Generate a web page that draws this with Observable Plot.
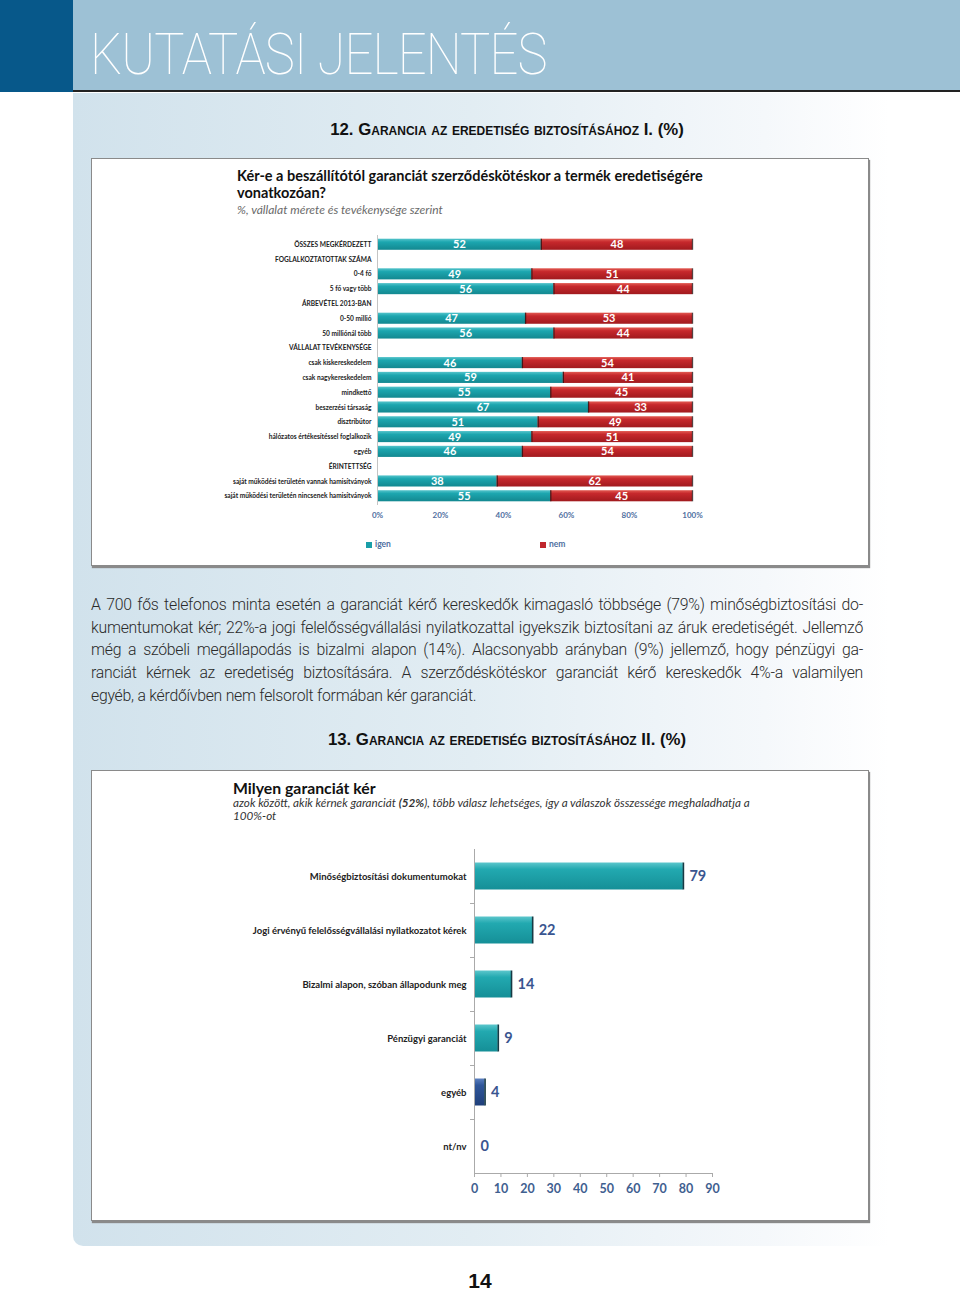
<!DOCTYPE html>
<html><head><meta charset="utf-8">
<script src="https://cdn.jsdelivr.net/npm/d3@7"></script>
<script src="https://cdn.jsdelivr.net/npm/@observablehq/plot@0.6"></script>
<style>
body{margin:0;background:#fff;}
#page{position:relative;width:960px;height:1291px;overflow:hidden;background:#fff;font-family:"Liberation Sans",Arial,sans-serif;}
.abs{position:absolute;}
.frame{position:absolute;background:#fff;border:1px solid #8a8a8a;box-shadow:1px 2px 1px #8a8a8a;}
.head{position:absolute;left:91px;width:832px;text-align:center;font-weight:bold;font-size:16.8px;color:#111;font-variant:small-caps;}
.pl{position:absolute;left:91px;width:772px;font-size:15.8px;letter-spacing:-0.25px;color:#2a2a2a;white-space:nowrap;font-family:Roboto,"Liberation Sans",sans-serif;font-weight:300;}
.ctitle{position:absolute;font-family:Lato,"Open Sans",sans-serif;font-weight:bold;color:#111;}
.csub{position:absolute;font-family:Lato,"Open Sans",sans-serif;font-style:italic;}
.leg{position:absolute;font-family:Lato,sans-serif;font-weight:bold;font-size:8.5px;color:#4f6f9f;}
.sw{display:inline-block;width:6px;height:6px;margin-right:3px;vertical-align:-0.5px;}
</style></head><body><div id="page">
<div class="abs" style="left:73px;top:93px;width:887px;height:1153px;border-bottom-left-radius:10px;background:linear-gradient(to right,#d1e2ec 0%,#e2edf3 45%,#f5f8fb 78%,#ffffff 92%);"></div>
<div class="abs" style="left:0;top:0;width:73px;height:92px;background:#07588a;"></div>
<div class="abs" style="left:73px;top:0;width:887px;height:91px;background:#9dc1d5;"></div>
<div class="abs" style="left:73px;top:90px;width:887px;height:2px;background:#222;"></div>
<div class="abs" id="maintitle" style="left:90px;top:21px;font-family:Roboto,sans-serif;font-weight:100;font-size:57px;color:#fff;letter-spacing:-1px;transform:scaleX(0.89);transform-origin:left top;white-space:nowrap;">KUTATÁSI JELENTÉS</div>

<div class="head" style="top:120px;">12. Garancia az eredetiség biztosításához I. (%)</div>

<div class="frame" style="left:91px;top:158px;width:776px;height:406px;"></div>
<div class="ctitle" style="left:237px;top:168px;font-size:14.5px;line-height:16.5px;">Kér-e a beszállítótól garanciát szerződéskötéskor a termék eredetiségére<br>vonatkozóan?</div>
<div class="csub" style="left:237px;top:202px;font-size:12px;color:#6a6a6a;">%, vállalat mérete és tevékenysége szerint</div>
<div id="c1" class="abs" style="left:92px;top:220px;"></div>
<div class="leg" style="left:366px;top:539px;"><span class="sw" style="background:#1a9ea8"></span>igen</div>
<div class="leg" style="left:540px;top:539px;"><span class="sw" style="background:#c0272d"></span>nem</div>

<div class="pl" style="top:595px;">A 700 fős telefonos minta esetén a garanciát kérő kereskedők kimagasló többsége (79%) minőségbiztosítási do-</div>
<div class="pl" style="top:618px;">kumentumokat kér; 22%-a jogi felelősségvállalási nyilatkozattal igyekszik biztosítani az áruk eredetiségét. Jellemző</div>
<div class="pl" style="top:640px;">még a szóbeli megállapodás is bizalmi alapon (14%). Alacsonyabb arányban (9%) jellemző, hogy pénzügyi ga-</div>
<div class="pl" style="top:663px;">ranciát kérnek az eredetiség biztosítására. A szerződéskötéskor garanciát kérő kereskedők 4%-a valamilyen</div>
<div class="pl last" style="top:686px;">egyéb, a kérdőívben nem felsorolt formában kér garanciát.</div>

<div class="head" style="top:730px;">13. Garancia az eredetiség biztosításához II. (%)</div>

<div class="frame" style="left:91px;top:770px;width:776px;height:449px;"></div>
<div class="ctitle" style="left:233px;top:778px;font-size:15.8px;">Milyen garanciát kér</div>
<div class="csub" style="left:233px;top:796px;font-size:11.7px;line-height:13px;color:#333;">azok között, akik kérnek garanciát <b style="font-style:italic">(52%</b>), több válasz lehetséges, így a válaszok összessége meghaladhatja a<br>100%-ot</div>
<div id="c2" class="abs" style="left:92px;top:840px;"></div>

<div class="abs" style="left:440px;top:1269px;width:80px;text-align:center;font-family:'Liberation Sans Narrow',sans-serif;font-weight:bold;font-size:21px;color:#111;">14</div>
</div>
<script>
const cats1 = ["ÖSSZES MEGKÉRDEZETT","FOGLALKOZTATOTTAK SZÁMA","0-4 fő","5 fő vagy több","ÁRBEVÉTEL 2013-BAN","0-50 millió","50 milliónál több","VÁLLALAT TEVÉKENYSÉGE","csak kiskereskedelem","csak nagykereskedelem","mindkettő","beszerzési társaság","disztribútor","hálózatos értékesítéssel foglalkozik","egyéb","ÉRINTETTSÉG","saját működési területén vannak hamisítványok","saját működési területén nincsenek hamisítványok"];
const igen1 = [52,null,49,56,null,47,56,null,46,59,55,67,51,49,46,null,38,55];
const nem1  = [48,null,51,44,null,53,44,null,54,41,45,33,49,51,54,null,62,45];
const series1 = ["igen","nem"];
const ticks1 = [0,20,40,60,80,100];

const cats2 = ["Minőségbiztosítási dokumentumokat","Jogi érvényű felelősségvállalási nyilatkozatot kérek","Bizalmi alapon, szóban állapodunk meg","Pénzügyi garanciát","egyéb","nt/nv"];
const vals2 = [79,22,14,9,4,0];
const ticks2 = [0,10,20,30,40,50,60,70,80,90];

const rows1 = [];
cats1.forEach((c,i)=>{
  if (igen1[i] != null) {
    rows1.push({cat:c, resp:"igen", value:igen1[i]});
    rows1.push({cat:c, resp:"nem", value:nem1[i]});
  }
});
const rows2 = cats2.map((c,i)=>({cat:c, value:vals2[i]}));

function addDefs(svg, html){
  const ns = "http://www.w3.org/2000/svg";
  const d = document.createElementNS(ns, "defs");
  d.innerHTML = html;
  svg.insertBefore(d, svg.firstChild);
}

const chart1 = Plot.plot({
  width:776, height:305, marginLeft:285, marginRight:176, marginTop:15, marginBottom:20,
  style:{fontFamily:"Lato, 'Open Sans', sans-serif", background:"transparent", overflow:"visible"},
  x:{domain:[0,100]},
  y:{domain:cats1, paddingInner:0.25, paddingOuter:0.25, round:false},
  color:{domain:series1, range:["url(#gTeal1)","url(#gRed1)"]},
  marks:[
    Plot.barX(rows1, Plot.stackX({x:"value", y:"cat", fill:"resp", order:series1})),
    Plot.tickX(rows1, Plot.stackX2({x:"value", y:"cat", z:"resp", order:series1, stroke:"#2a1212", strokeWidth:1.3, strokeOpacity:0.8})),
    Plot.text(rows1, Plot.stackX({x:"value", y:"cat", z:"resp", order:series1, text:"value", fill:"white", fontWeight:"bold", fontSize:11})),
    Plot.ruleX([0], {stroke:"#c4c4c4"}),
    Plot.axisY({tickSize:0, tickPadding:6, fontSize:6.6, fontWeight:"bold", color:"#222", label:null}),
    Plot.axisX({ticks:ticks1, tickFormat:d=>d+"%", tickSize:0, tickPadding:7, fontSize:8, fontWeight:"bold", color:"#4f6f9f", label:null})
  ]
});
addDefs(chart1, `
<linearGradient id="gTeal1" x1="0" y1="0" x2="0" y2="1"><stop offset="0" stop-color="#55c4cb"/><stop offset="0.3" stop-color="#1ca6af"/><stop offset="1" stop-color="#138890"/></linearGradient>
<linearGradient id="gRed1" x1="0" y1="0" x2="0" y2="1"><stop offset="0" stop-color="#e25a52"/><stop offset="0.3" stop-color="#c6282c"/><stop offset="1" stop-color="#a11a1e"/></linearGradient>`);
document.getElementById("c1").appendChild(chart1);

const chart2 = Plot.plot({
  width:776, height:365, marginLeft:382, marginRight:156, marginTop:9, marginBottom:32,
  style:{fontFamily:"Lato, 'Open Sans', sans-serif", background:"transparent", overflow:"visible"},
  x:{domain:[0,90]},
  y:{domain:cats2, paddingInner:0.5, paddingOuter:0.25, round:false},
  marks:[
    Plot.barX(rows2, {x:"value", y:"cat", fill:"url(#gTeal2)", filter:d=>d.cat!=="egyéb"}),
    Plot.barX(rows2, {x:"value", y:"cat", fill:"url(#gBlue2)", filter:d=>d.cat==="egyéb"}),
    Plot.tickX(rows2, {x:"value", y:"cat", stroke:"#173a44", strokeWidth:1.6, filter:d=>d.value>0}),
    Plot.text(rows2, {x:"value", y:"cat", text:"value", dx:6, textAnchor:"start", fill:"#3a5590", fontSize:14.5, fontWeight:"bold"}),
    Plot.ruleY(cats2.slice(1), {y:d=>d, x1:-1.5, x2:0, dy:-27, stroke:"#aaa"}),
    Plot.frame({anchor:"left", stroke:"#aaa"}),
    Plot.frame({anchor:"bottom", stroke:"#aaa"}),
    Plot.axisY({tickSize:0, tickPadding:8, fontSize:9.5, fontWeight:"bold", color:"#222", label:null}),
    Plot.axisX({ticks:ticks2, tickSize:4, tickPadding:7, fontSize:12.5, fontWeight:"bold", stroke:"#aaa", fill:"#3f6090", label:null})
  ]
});
addDefs(chart2, `
<linearGradient id="gTeal2" x1="0" y1="0" x2="0" y2="1"><stop offset="0" stop-color="#5cc6cc"/><stop offset="0.25" stop-color="#22a9b0"/><stop offset="1" stop-color="#158f97"/></linearGradient>
<linearGradient id="gBlue2" x1="0" y1="0" x2="0" y2="1"><stop offset="0" stop-color="#5b7fbf"/><stop offset="0.25" stop-color="#2f569a"/><stop offset="1" stop-color="#1f3f7a"/></linearGradient>`);
document.getElementById("c2").appendChild(chart2);

// justify paragraph lines
document.querySelectorAll(".pl").forEach(el=>{
  if (el.classList.contains("last")) return;
  const span = document.createElement("span");
  span.textContent = el.textContent;
  el.textContent = "";
  el.appendChild(span);
  const natural = span.getBoundingClientRect().width;
  const gaps = (span.textContent.match(/ /g)||[]).length;
  if (gaps) el.style.wordSpacing = ((772 - natural)/gaps) + "px";
});
</script>
</body></html>
